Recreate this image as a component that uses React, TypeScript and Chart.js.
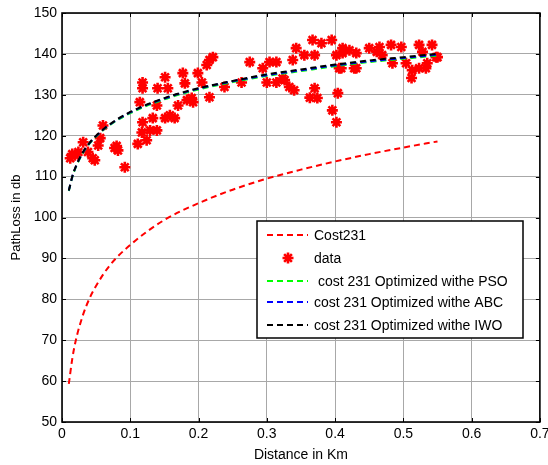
import React, { useEffect, useRef } from 'react';
import { Chart, registerables } from 'chart.js';

Chart.register(...registerables);

// Curve sample distances (km) and path-loss values (dB)
const curveDistance = [0.01, 0.015, 0.02, 0.03, 0.04, 0.05, 0.07, 0.1, 0.15, 0.2, 0.25, 0.3, 0.35, 0.4, 0.45, 0.5, 0.55];
const cost231Loss = [59.3, 65.4, 69.8, 75.8, 80.1, 83.3, 88.3, 93.3, 99.4, 103.5, 106.8, 109.5, 111.7, 113.7, 115.5, 117.1, 118.6];
const psoLoss = [106.5, 109.8, 112.2, 115.6, 118.0, 119.8, 122.6, 125.5, 128.9, 131.3, 133.1, 134.6, 135.8, 137.0, 138.0, 138.8, 139.6];
const abcLoss = [106.6, 109.9, 112.3, 115.7, 118.1, 119.9, 122.7, 125.7, 129.1, 131.5, 133.3, 134.8, 136.0, 137.2, 138.2, 139.0, 139.8];
const iwoLoss = [106.6, 110.0, 112.4, 115.8, 118.2, 120.0, 122.8, 125.8, 129.2, 131.6, 133.4, 135.0, 136.2, 137.4, 138.4, 139.2, 140.0];

// Measured data points
const dataDistance = [
  0.012, 0.015, 0.019, 0.024, 0.031, 0.038, 0.045, 0.048, 0.053, 0.056, 0.06, 0.077, 0.082, 0.08, 0.092,
  0.111, 0.117, 0.118, 0.114, 0.118, 0.118, 0.124, 0.129, 0.139, 0.133, 0.139, 0.14, 0.151, 0.155, 0.151,
  0.158, 0.165, 0.17, 0.177, 0.18, 0.183, 0.19, 0.192, 0.199, 0.205, 0.212, 0.216, 0.221, 0.216, 0.238,
  0.263, 0.275, 0.294, 0.3, 0.304, 0.314, 0.314, 0.323, 0.326, 0.333, 0.34, 0.338, 0.343, 0.355, 0.363,
  0.37, 0.374, 0.367, 0.38, 0.395, 0.37, 0.404, 0.396, 0.402, 0.406, 0.409, 0.428, 0.431, 0.402, 0.411,
  0.411, 0.421, 0.431, 0.45, 0.461, 0.465, 0.482, 0.497, 0.469, 0.484, 0.504, 0.513, 0.512, 0.523, 0.528,
  0.542, 0.548, 0.535, 0.523, 0.533, 0.55,
];
const dataLoss = [
  114.5, 115.5, 115.2, 116.0, 118.4, 116.0, 114.5, 114.0, 117.6, 119.4, 122.5, 117.0, 116.4, 117.5, 112.3,
  118.0, 120.8, 123.3, 128.2, 131.6, 133.0, 118.9, 121.3, 121.3, 124.3, 127.4, 131.6, 134.3, 131.6, 124.3,
  125.0, 124.3, 127.4, 135.3, 132.8, 128.7, 129.2, 128.2, 135.3, 133.0, 137.3, 138.5, 139.2, 129.4, 131.9,
  133.0, 138.0, 136.5, 133.0, 138.0, 138.0, 133.0, 134.0, 133.6, 131.9, 131.1, 138.5, 141.4, 139.7, 129.3,
  131.6, 129.2, 143.4, 142.6, 143.4, 139.7, 130.4, 126.2, 123.3, 136.5, 136.5, 136.5, 136.5, 139.7, 141.4,
  140.2, 140.9, 140.2, 141.4, 140.5, 141.7, 142.2, 141.7, 139.7, 137.7, 137.7, 136.0, 134.1, 142.2, 140.5,
  142.2, 139.2, 137.7, 136.5, 136.5, 139.2,
];

const xTicks = [0, 0.1, 0.2, 0.3, 0.4, 0.5, 0.6, 0.7];
const yTicks = [50, 60, 70, 80, 90, 100, 110, 120, 130, 140, 150];

const legendLabels = ['Cost231', 'data', ' cost 231 Optimized withe PSO', 'cost 231 Optimized withe ABC', 'cost 231 Optimized withe IWO'];
const legendColors = ['#ff0000', '#ff0000', '#00ff00', '#0000ff', '#000000'];

const FONT = '"Liberation Sans", Arial, sans-serif';

function drawStar(ctx: CanvasRenderingContext2D, x: number, y: number, r: number) {
  ctx.beginPath();
  for (let i = 0; i < 4; i++) {
    const a = (i * Math.PI) / 4;
    ctx.moveTo(x - Math.cos(a) * r, y - Math.sin(a) * r);
    ctx.lineTo(x + Math.cos(a) * r, y + Math.sin(a) * r);
  }
  ctx.stroke();
}

const framePlugin = {
  id: 'frameAndLegend',
  afterDraw(chart: any) {
    const { ctx, chartArea } = chart;
    const { left, right, top, bottom } = chartArea;
    const xs = chart.scales.x;
    const ys = chart.scales.y;
    ctx.save();
    ctx.strokeStyle = '#000';
    ctx.lineWidth = 1.6;
    ctx.setLineDash([]);
    ctx.strokeRect(left, top, right - left, bottom - top);
    ctx.lineWidth = 1;
    ctx.beginPath();
    xTicks.forEach((t) => {
      const px = Math.round(xs.getPixelForValue(t)) + 0.5;
      ctx.moveTo(px, bottom);
      ctx.lineTo(px, bottom - 4);
      ctx.moveTo(px, top);
      ctx.lineTo(px, top + 4);
    });
    yTicks.forEach((t) => {
      const py = Math.round(ys.getPixelForValue(t)) + 0.5;
      ctx.moveTo(left, py);
      ctx.lineTo(left + 4, py);
      ctx.moveTo(right, py);
      ctx.lineTo(right - 4, py);
    });
    ctx.stroke();

    // legend box
    const bx = 257, by = 221, bw = 266, bh = 117;
    ctx.fillStyle = '#fff';
    ctx.fillRect(bx, by, bw, bh);
    ctx.lineWidth = 1.5;
    ctx.strokeStyle = '#000';
    ctx.strokeRect(bx, by, bw, bh);
    const rowY = [235, 258, 281, 302, 325];
    ctx.font = `14px ${FONT}`;
    ctx.textBaseline = 'middle';
    legendLabels.forEach((label, i) => {
      const y = rowY[i];
      ctx.strokeStyle = legendColors[i];
      ctx.fillStyle = legendColors[i];
      if (i === 1) {
        ctx.lineWidth = 2.6;
        ctx.setLineDash([]);
        drawStar(ctx, 288, y, 5.5);
      } else {
        ctx.lineWidth = 2;
        ctx.setLineDash([6, 4]);
        ctx.beginPath();
        ctx.moveTo(267, y);
        ctx.lineTo(308, y);
        ctx.stroke();
      }
      ctx.setLineDash([]);
      ctx.fillStyle = '#000';
      ctx.fillText(label, 314, y + 1);
    });
    ctx.restore();
  },
};

function toPoints(xs: number[], ys: number[]) {
  return xs.map((x, i) => ({ x, y: ys[i] }));
}

export default function App() {
  const ref = useRef<HTMLCanvasElement | null>(null);
  useEffect(() => {
    if (!ref.current) return;
    const lineDs = (label: string, values: number[], color: string, order: number) => ({
      label,
      data: toPoints(curveDistance, values),
      showLine: true,
      borderColor: color,
      backgroundColor: color,
      borderWidth: 2,
      borderDash: [6, 4],
      pointRadius: 0,
      fill: false,
      cubicInterpolationMode: 'monotone' as const,
      order,
    });
    const chart = new Chart(ref.current, {
      type: 'scatter',
      data: {
        datasets: [
          lineDs('Cost231', cost231Loss, '#ff0000', 4),
          {
            label: 'data',
            data: toPoints(dataDistance, dataLoss),
            pointStyle: 'star',
            pointRadius: 5.5,
            borderWidth: 2.6,
            borderColor: '#ff0000',
            backgroundColor: '#ff0000',
            showLine: false,
            order: 3,
          } as any,
          lineDs(' cost 231 Optimized withe PSO', psoLoss, '#00ff00', 2),
          lineDs('cost 231 Optimized withe ABC', abcLoss, '#0000ff', 1),
          lineDs('cost 231 Optimized withe IWO', iwoLoss, '#000000', 0),
        ],
      },
      options: {
        responsive: false,
        animation: false,
        devicePixelRatio: 1,
        layout: { padding: { top: 13, right: 7, left: 0, bottom: 0 } },
        plugins: { legend: { display: false }, tooltip: { enabled: false } },
        scales: {
          x: {
            type: 'linear',
            min: 0,
            max: 0.7,
            afterFit: (s: any) => { s.height = 43; s.paddingLeft = 0; s.paddingRight = 0; },
            afterBuildTicks: (s: any) => { s.ticks = xTicks.map((v) => ({ value: v })); },
            ticks: {
              color: '#000',
              font: { family: FONT, size: 14 },
              padding: 4,
              callback: (v: any) => (Number(v) === 0 ? '0' : Number(v).toFixed(1)),
            },
            grid: { color: '#a8a8a8', lineWidth: 1, drawTicks: false },
            border: { display: false },
            title: { display: true, text: 'Distance in Km', color: '#000', font: { family: FONT, size: 14 }, padding: { top: 0, bottom: 1 } },
          },
          y: {
            type: 'linear',
            min: 50,
            max: 150,
            afterFit: (s: any) => { s.width = 62; s.paddingTop = 0; s.paddingBottom = 0; },
            afterBuildTicks: (s: any) => { s.ticks = yTicks.map((v) => ({ value: v })); },
            ticks: { color: '#000', font: { family: FONT, size: 14 }, padding: 5 },
            grid: { color: '#a8a8a8', lineWidth: 1, drawTicks: false },
            border: { display: false },
            title: { display: true, text: 'PathLoss in db', color: '#000', font: { family: FONT, size: 13 }, padding: { top: 9, bottom: 0 } },
          },
        },
      },
      plugins: [framePlugin],
    });
    return () => chart.destroy();
  }, []);
  return (
    <div style={{ position: 'absolute', left: 0, top: 0, width: 548, height: 465, background: '#fff' }}>
      <canvas ref={ref} width={548} height={465} />
    </div>
  );
}
